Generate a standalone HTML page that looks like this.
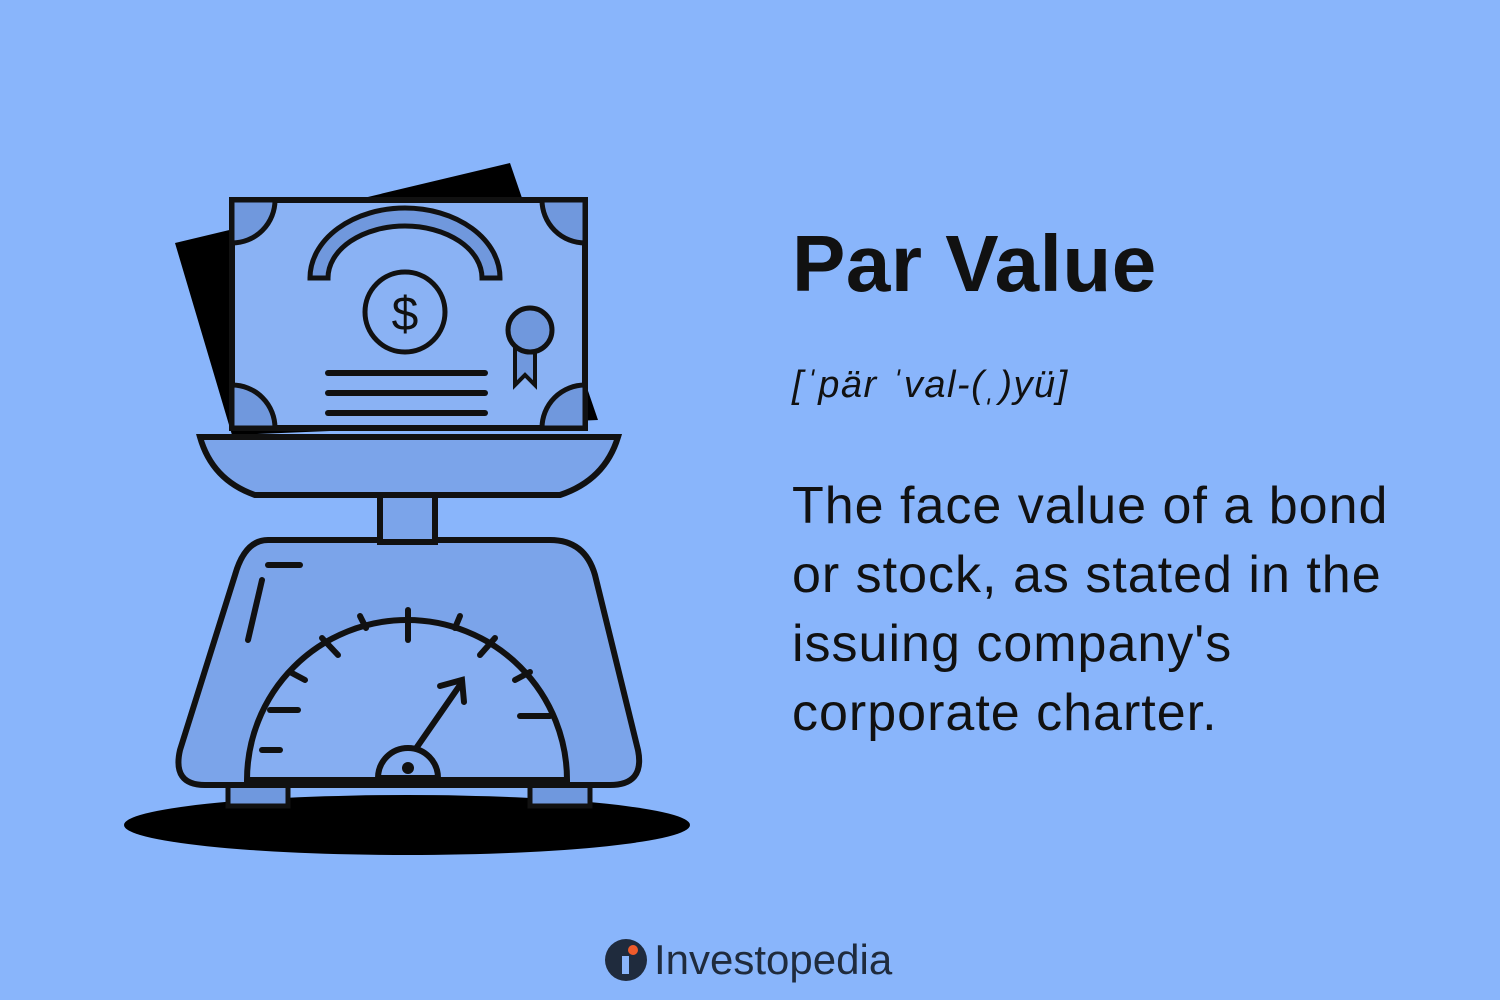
<!DOCTYPE html>
<html><head><meta charset="utf-8"><style>
html,body{margin:0;padding:0}
body{width:1500px;height:1000px;background:#89b5fb;position:relative;overflow:hidden;font-family:"Liberation Sans",sans-serif;color:#111}
.t{position:absolute;left:792px}
</style></head><body>
<svg width="1500" height="1000" style="position:absolute;left:0;top:0">
 <ellipse cx="407" cy="825" rx="283" ry="30" fill="#000"/>
 <rect x="228" y="780" width="60" height="26" fill="#6f98de" stroke="#111" stroke-width="5"/>
 <rect x="530" y="780" width="60" height="26" fill="#6f98de" stroke="#111" stroke-width="5"/>
 <path d="M268,540 L550,540 Q585,540 595,575 L638,750 Q645,785 610,785 L205,785 Q172,785 180,750 L235,575 Q245,540 268,540 Z" fill="#7ba4ea" stroke="#111" stroke-width="6"/>
 <path d="M247,780 A160,160 0 0 1 567,780 Z" fill="#86aef2" stroke="#111" stroke-width="6"/>
 <g stroke="#111" stroke-width="6" stroke-linecap="round">
  <line x1="408" y1="610" x2="408" y2="640"/><line x1="270" y1="710" x2="298" y2="710"/><line x1="520" y1="716" x2="550" y2="716"/>
  <line x1="322" y1="638" x2="338" y2="655"/><line x1="495" y1="638" x2="480" y2="655"/>
  <line x1="360" y1="616" x2="366" y2="628"/><line x1="460" y1="616" x2="455" y2="628"/>
  <line x1="290" y1="672" x2="305" y2="680"/><line x1="530" y1="672" x2="515" y2="680"/>
  <line x1="262" y1="750" x2="280" y2="750"/><line x1="408" y1="760" x2="460" y2="685"/>
  <polyline points="440,686 462,680 464,702" fill="none"/>
  <line x1="268" y1="565" x2="300" y2="565"/><line x1="262" y1="580" x2="248" y2="640"/>
 </g>
 <path d="M378,778 A30,30 0 0 1 438,778 Z" fill="#86aef2" stroke="#111" stroke-width="6"/>
 <circle cx="408" cy="768" r="6" fill="#111"/>
 <rect x="380" y="490" width="55" height="52" fill="#7ba4ea" stroke="#111" stroke-width="6"/>
 <polygon points="175,243 510,163 598,420 232,435" fill="#000"/>
 <rect x="232" y="200" width="353" height="228" fill="#8ab2f4" stroke="#111" stroke-width="6"/>
 <g fill="#7098dd" stroke="#111" stroke-width="5">
  <path d="M232,200 L275,200 A43,43 0 0 1 232,243 Z"/><path d="M585,200 L542,200 A43,43 0 0 0 585,243 Z"/>
  <path d="M232,428 L232,385 A43,43 0 0 1 275,428 Z"/><path d="M585,428 L585,385 A43,43 0 0 0 542,428 Z"/>
 </g>
 <path d="M310,278 A95,70 0 0 1 500,278 L482,278 A77,52 0 0 0 328,278 Z" fill="#7098dd" stroke="#111" stroke-width="5"/>
 <circle cx="405" cy="312" r="40" fill="none" stroke="#111" stroke-width="5"/>
 <text x="405" y="330" text-anchor="middle" font-size="48" font-family="Liberation Sans,sans-serif" fill="#111">$</text>
 <g stroke="#111" stroke-width="6" stroke-linecap="round"><line x1="328" y1="373" x2="485" y2="373"/><line x1="328" y1="393" x2="485" y2="393"/><line x1="328" y1="413" x2="485" y2="413"/></g>
 <polygon points="515,345 515,385 525,375 535,385 535,345" fill="#7098dd" stroke="#111" stroke-width="4"/>
 <circle cx="530" cy="330" r="22" fill="#7098dd" stroke="#111" stroke-width="5"/>
 <path d="M200,437 L618,437 Q605,480 560,495 L255,495 Q212,480 200,437 Z" fill="#7ba4ea" stroke="#111" stroke-width="6"/>
</svg>
<div class="t" style="top:218px;font-size:80px;font-weight:bold;letter-spacing:0.5px">Par Value</div>
<div class="t" style="top:364px;font-size:38px;font-style:italic;letter-spacing:1.5px">[ˈpär ˈval-(ˌ)yü]</div>
<div class="t" style="top:472px;font-size:52px;line-height:69px;width:700px;letter-spacing:1px">The face value of a bond<br>or stock, as stated in the<br>issuing company's<br>corporate charter.</div>
<div style="position:absolute;left:604px;top:935px;height:50px;display:flex;align-items:center">
 <svg width="44" height="44"><circle cx="22" cy="22" r="21" fill="#1f2b3d"/><circle cx="29" cy="12" r="5" fill="#ef5b2b"/><rect x="18" y="18" width="7" height="18" fill="#89b5fb"/></svg>
 <span style="font-size:42px;color:#1f2b3d;margin-left:6px">Investopedia</span>
</div>
</body></html>
